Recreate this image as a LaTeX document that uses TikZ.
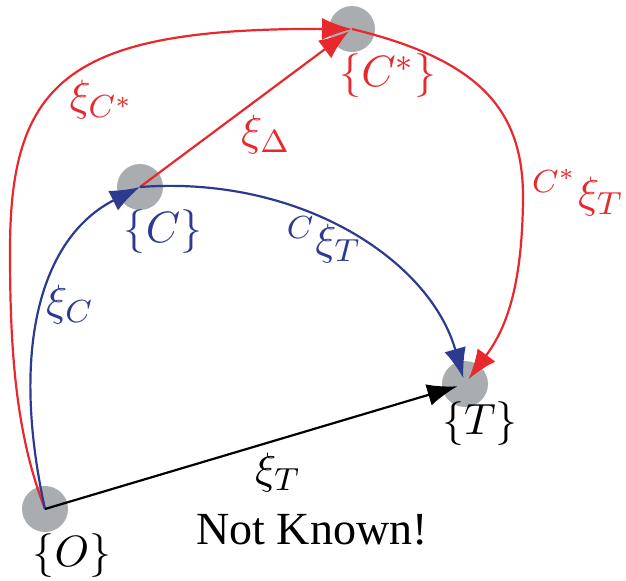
\documentclass[tikz,border=0pt]{standalone}
\usepackage{fontspec}
\newfontfamily\timesfont{Liberation Serif}
\usetikzlibrary{arrows.meta}
\definecolor{spot-grey}{HTML}{A9ADAF}
\definecolor{path-red}{HTML}{E8282C}
\definecolor{path-blue}{HTML}{2E3A90}

\begin{document}
\begin{tikzpicture}[x=0.25pt, y=-0.25pt,
    every node/.style={font=\fontsize{10.95}{13}\selectfont},
    spot/.style={circle, fill=spot-grey, minimum size=11.5pt, inner sep=0pt},
    link/.style={line width=0.55pt, -{Latex[length=7.5pt, width=5.5pt]}}]
  \useasboundingbox (0,0) rectangle (626,581);
  % frames
  \node[spot] (O) at (45,509) {};
  \node[spot] (C) at (140,187) {};
  \node[spot] (Cs) at (352,29) {};
  \node[spot] (T) at (465,384) {};
  \node (Olbl) at (72,556) {$\{O\}$};
  \node[text=path-blue] (Clbl) at (163,232) {$\{C\}$};
  \node[text=path-red] (Cslbl) at (388,76) {$\{C^*\}$};
  \node (Tlbl) at (480,424) {$\{T\}$};
  % transforms
  \draw[link, path-red] (O.center) .. controls (14,430) and (10,340) .. (10,250)
        .. controls (10,80) and (70,28) .. (Cs.center);
  \draw[link, path-blue] (O.center) .. controls (8,340) and (45,235) .. (C.center);
  \draw[link, path-red, shorten >=1pt] (C.center) -- (Cs.center);
  \draw[link, path-blue, shorten >=1.5pt] (C.center) .. controls (300,175) and (430,260) .. (T.center);
  \draw[link, path-red, shorten >=1.5pt] (Cs.center) .. controls (480,60) and (524,110) .. (523,200)
        .. controls (522,290) and (505,330) .. (T.center);
  \draw[link, black, shorten >=2pt] (O.center) -- (T.center);
  % labels
  \node[text=path-red] (xiCs) at (102,100) {$\xi_{C^*}$};
  \node[text=path-red] (xiD) at (266,135) {$\xi_\Delta$};
  \node[text=path-red] (CsxiT) at (578,193) {${}^{C^*}\xi_T$};
  \node[text=path-blue] (CxiT) at (324,240) {${}^{C}\xi_T$};
  \node[text=path-blue] (xiC) at (70,305) {$\xi_C$};
  \node (xiT) at (278,473) {$\xi_T$};
  \node[font=\timesfont\fontsize{11.5}{13}\selectfont] (unknown) at (312,530) {Not Known!};
\end{tikzpicture}
\end{document}
